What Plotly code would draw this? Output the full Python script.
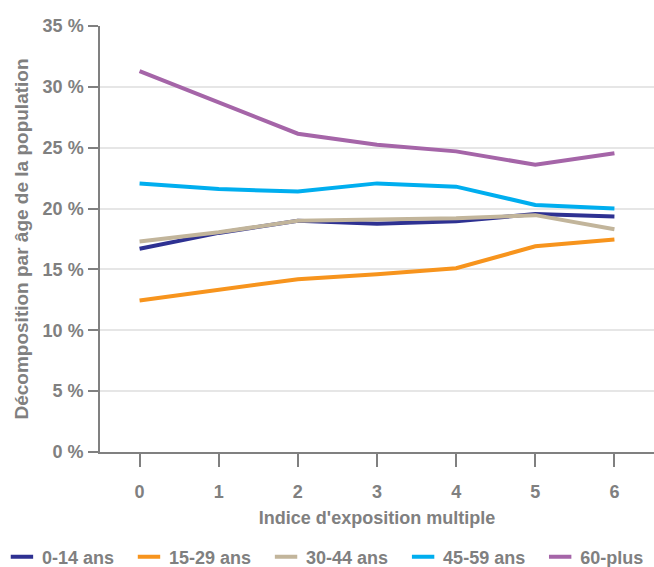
import plotly.graph_objects as go

categories = [0, 1, 2, 3, 4, 5, 6]
age_0_14 = [16.7, 18.0, 19.0, 18.75, 18.95, 19.55, 19.35]
age_15_29 = [12.45, 13.3, 14.2, 14.6, 15.1, 16.9, 17.45]
age_30_44 = [17.3, 18.05, 19.0, 19.08, 19.2, 19.46, 18.3]
age_45_59 = [22.05, 21.6, 21.4, 22.07, 21.8, 20.3, 20.0]
age_60_plus = [31.3, 28.7, 26.15, 25.25, 24.7, 23.6, 24.55]
series_names = ["0-14 ans", "15-29 ans", "30-44 ans", "45-59 ans", "60-plus"]
colors = ["#2e3192", "#f7941d", "#c2b59b", "#00aeef", "#a565a8"]
y_ticks = [0, 5, 10, 15, 20, 25, 30, 35]
y_tick_labels = ["0 %", "5 %", "10 %", "15 %", "20 %", "25 %", "30 %", "35 %"]

gray = "#808080"
FONT = "Liberation Sans, Arial, sans-serif"
NBSP = "\u00a0"
fig = go.Figure()
series = [age_0_14, age_15_29, age_30_44, age_45_59, age_60_plus]
for i, (name, vals, c) in enumerate(zip(series_names, series, colors)):
    fig.add_trace(go.Scatter(x=categories, y=vals, mode="lines", name=name,
                             line=dict(color=c, width=4), showlegend=False,
                             legendgroup=name))
    # legend entry with a short line swatch (extra spacing between entries)
    label = name + (NBSP * 2 if i < len(series_names) - 1 else "")
    fig.add_trace(go.Scatter(x=[None], y=[None], mode="markers", name=label,
                             legendgroup=name, showlegend=True,
                             marker=dict(symbol="line-ew", size=17, color=c,
                                         line=dict(color=c, width=4))))

fig.update_layout(
    width=654, height=567,
    margin=dict(l=100, r=0, t=26, b=115, autoexpand=False),
    plot_bgcolor="white", paper_bgcolor="white",
    font=dict(family=FONT, color=gray, size=18),
    showlegend=True,
    legend=dict(orientation="h", x=-0.177, xanchor="left", y=-0.2465, yanchor="middle",
                font=dict(size=18, color=gray, family=FONT, weight="bold"),
                itemwidth=30, tracegroupgap=0, bgcolor="rgba(0,0,0,0)"),
    xaxis=dict(range=[-0.5, 6.5], tickvals=categories, ticktext=[str(c) for c in categories],
               showgrid=False, zeroline=False, showline=True, linecolor=gray, linewidth=1.5,
               ticks="outside", ticklen=13, tickwidth=1.5, tickcolor=gray,
               ticklabelstandoff=10, automargin=False,
               tickfont=dict(size=18, color=gray, family=FONT, weight="bold"),
               title=dict(text="Indice d'exposition multiple",
                          font=dict(size=18, color=gray, family=FONT, weight="bold"), standoff=10)),
    yaxis=dict(range=[0, 35], tickvals=y_ticks, ticktext=y_tick_labels,
               showgrid=True, gridcolor="#e6e6e6", gridwidth=1.5, zeroline=False,
               showline=True, linecolor=gray, linewidth=1.5,
               ticks="outside", ticklen=10, tickwidth=1.5, tickcolor=gray,
               ticklabelstandoff=1, automargin=False,
               tickfont=dict(size=18, color=gray, family=FONT, weight="bold"),
               title=dict(text="Décomposition par âge de la population",
                          font=dict(size=19, color=gray, family=FONT, weight="bold"), standoff=9)),
)
fig.write_html("out.html", config={"displayModeBar": False},
               post_script="document.body.style.margin='0';")
